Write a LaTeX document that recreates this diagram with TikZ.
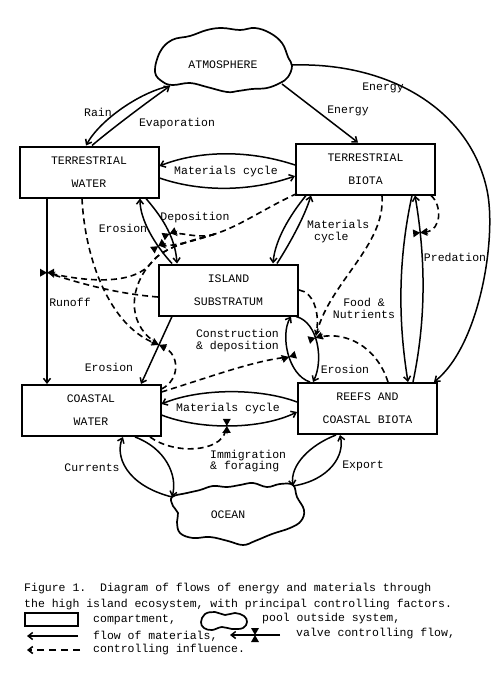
\documentclass[tikz,border=0pt]{standalone}
\usepackage{fontspec}
\setmainfont{Liberation Mono}
\usetikzlibrary{arrows.meta,decorations.markings}
\begin{document}
\begin{tikzpicture}[x=1pt,y=-1pt,
  every node/.style={font=\fontsize{11.5}{11.5}\selectfont, inner sep=0pt},
  box/.style={draw, line width=2pt, align=center, font=\fontsize{11.5}{23}\selectfont,
    minimum width=139pt, minimum height=51pt},
  flow/.style={line width=1.5pt, -{Straight Barb[length=4.5pt,width=7pt]}},
  ctrl/.style={line width=1.6pt, dash pattern=on 6pt off 4pt, shorten >=2pt,
    -{Stealth[length=6pt,width=5.5pt]}},
  trunk/.style={line width=1.6pt, dash pattern=on 6pt off 4pt},
  legdash/.style={line width=1.6pt, dash pattern=on 7pt off 5pt,
    -{Straight Barb[length=4.5pt,width=7pt]}},
  cloudline/.style={line width=1.7pt},
  valveat/.style 2 args={postaction={decorate,decoration={markings,
    mark=at position #1 with {\coordinate (#2);
      \fill[solid,arrows=-] (0,0)--(-4,7)--(4,7)--cycle (0,0)--(-4,-7)--(4,-7)--cycle;}}}}
]
\useasboundingbox[fill=white] (0,0) rectangle (500,680);

% clouds
\draw[cloudline] plot[smooth cycle, tension=0.65] coordinates {(155,72) (160,52) (172,40) (190,36) (207,30) (222,28) (240,30) (255,28) (270,33) (282,43) (288,57) (292,66) (288,77) (280,83) (267,88) (252,89) (238,91) (227,92) (207,87) (190,83) (173,85) (163,82)};
\node (atm) at (223,65) {ATMOSPHERE};
\coordinate (atmA) at (170,86);
\coordinate (atmB) at (282,84);
\coordinate (atmC) at (292,65);

\draw[cloudline] plot[smooth cycle, tension=0.65] coordinates {(172,497) (187,493) (200,490) (213,486) (227,487) (240,485) (253,483) (267,487) (280,484) (293,485) (297,497) (304,510) (301,521) (290,528) (272,534) (255,541) (243,545) (228,541) (210,537) (193,538) (180,533) (177,522) (178,513) (173,506)};
\node (ocean) at (228,515) {OCEAN};
\coordinate (ocA) at (172,497);
\coordinate (ocB) at (293,486);

% compartments
\node[box] (tw) at (89,172) {TERRESTRIAL\\WATER};
\node[box] (tb) at (365.5,169) {TERRESTRIAL\\BIOTA};
\node[box] (is) at (228.5,290) {ISLAND\\SUBSTRATUM};
\node[box] (cw) at (91,410.5) {COASTAL\\WATER};
\node[box] (rc) at (367.5,408.5) {REEFS AND\\COASTAL BIOTA};

% atmosphere flows
\draw[flow] (atmA) .. controls (140,92) and (100,120) .. ([xshift=-3pt]tw.north);
\draw[flow] ([xshift=3pt]tw.north) .. controls (110,130) and (150,100) .. (atmA);
\draw[flow] (atmB) -- ([xshift=-7.5pt]tb.north);
\draw[flow] (atmC) .. controls (390,62) and (470,110) .. (487,190) .. controls (497,237) and (480,345) .. ([xshift=66.5pt]rc.north);

% TW <-> TB
\draw[flow] ([yshift=4pt]tb.west) .. controls (250,150) and (200,150) .. ([yshift=6pt]tw.east);
\draw[flow] ([yshift=-6pt]tw.east) .. controls (200,192) and (250,192) .. ([yshift=-7pt]tb.west);

% TW <-> IS
\draw[flow, valveat={0.58}{v1}] ([xshift=57pt]tw.south) .. controls (160,215) and (175,235) .. ([xshift=-51.5pt]is.north);
\draw[flow, valveat={0.3}{v2}] ([xshift=-56.5pt]is.north) .. controls (155,245) and (140,220) .. ([xshift=51pt]tw.south);

% runoff
\draw[flow, valveat={0.4}{vr}] ([xshift=-42pt]tw.south) -- ([xshift=-44pt]cw.north);

% TB <-> IS
\draw[flow] ([xshift=-59.5pt]tb.south) .. controls (290,215) and (275,240) .. ([xshift=44.5pt]is.north);
\draw[flow] ([xshift=48.5pt]is.north) .. controls (292,240) and (305,215) .. ([xshift=-54.5pt]tb.south);

% IS -> CW erosion
\draw[flow, valveat={0.42}{ve1}] ([xshift=-56.5pt]is.south) -- ([xshift=50pt]cw.north);

% IS <-> reefs
\draw[flow, valveat={0.45}{vc}] ([xshift=-57.5pt]rc.north) .. controls (288,375) and (280,335) .. ([xshift=62.5pt]is.south);
\draw[flow, valveat={0.4}{ve2}] ([xshift=67.5pt]is.south) .. controls (318,322) and (324,360) .. ([xshift=-54.5pt]rc.north);

% TB <-> reefs
\draw[flow] ([xshift=46.5pt]tb.south) .. controls (398,260) and (398,320) .. ([xshift=40.5pt]rc.north);
\draw[flow, valveat={0.8}{vp}] ([xshift=45.5pt]rc.north) .. controls (426,320) and (426,260) .. ([xshift=49.5pt]tb.south);

% CW <-> reefs
\draw[flow] ([yshift=6.5pt]rc.west) .. controls (260,388) and (200,388) .. ([yshift=6.5pt]cw.east);
\draw[flow, valveat={0.48}{vm}] ([yshift=-4.5pt]cw.east) .. controls (200,430) and (260,430) .. ([yshift=-3.5pt]rc.west);

% currents
\draw[flow] (ocA) .. controls (125,485) and (115,455) .. ([xshift=32pt]cw.south);
\draw[flow] ([xshift=44pt]cw.south) .. controls (165,448) and (178,475) .. (ocA);

% export
\draw[flow] (ocB) .. controls (330,480) and (345,455) .. ([xshift=-27.5pt]rc.south);
\draw[flow] ([xshift=-31.5pt]rc.south) .. controls (310,445) and (290,465) .. (ocB);

% controlling influences
\coordinate (jn) at (215,234);
\draw[trunk] ([shift={(2pt,2pt)}]tb.south west) .. controls (265,208) and (240,226) .. (jn);
\draw[ctrl] (jn) .. controls (200,239) and (185,233) .. (v1);
\draw[ctrl] (jn) .. controls (200,239) and (180,245) .. (v2);
\draw[ctrl] (jn) .. controls (200,239) and (165,245) .. (152,262) .. controls (135,285) and (90,282) .. (vr);
\draw[ctrl] (jn) .. controls (200,239) and (165,245) .. (152,262) .. controls (130,285) and (126,322) .. (ve1);
\draw[ctrl] ([yshift=-7pt]is.west) .. controls (120,294) and (85,285) .. (vr);
\draw[ctrl] ([xshift=-7pt]tw.south) .. controls (85,260) and (110,325) .. (ve1);
\draw[ctrl] ([yshift=-5pt]cw.north east) .. controls (180,380) and (180,355) .. (ve1);
\draw[ctrl] ([yshift=-8pt]cw.north east) .. controls (210,377) and (250,362) .. (vc);
\draw[ctrl] (is.east) .. controls (313,292) and (320,312) .. (ve2);
\draw[ctrl] ([xshift=16.5pt]tb.south) .. controls (386,245) and (330,282) .. (ve2);
\draw[ctrl] ([xshift=20.5pt]rc.north) .. controls (376,345) and (345,332) .. (ve2);
\draw[ctrl] ([xshift=65.5pt]tb.south) .. controls (442,205) and (442,230) .. (vp);
\draw[ctrl] ([xshift=59pt]cw.south) .. controls (175,455) and (220,452) .. (vm);

% labels
\node (lRain) at (98,112) {Rain};
\node (lEvap) at (177,124) {Evaporation};
\node (lEn1) at (348,111) {Energy};
\node (lEn2) at (383,88) {Energy};
\node (lMc1) at (226,172) {Materials cycle};
\node (lEro1) at (123,228) {Erosion};
\node (lDep) at (195,218) {Deposition};
\node[align=left, anchor=west] (lMc2) at (307,231.5) {Materials\\\hphantom{x}cycle};
\node (lRun) at (70,302) {Runoff};
\node[align=center] (lFood) at (364,308.5) {Food \&\\Nutrients};
\node[align=center] (lCon) at (237.5,340.5) {Construction\\\& deposition};
\node (lEro2) at (109,367) {Erosion};
\node (lEro3) at (345,369) {Erosion};
\node (lPred) at (455,257) {Predation};
\node (lMc3) at (228,409) {Materials cycle};
\node[align=left, anchor=west] (lImm) at (210,461) {Immigration\\\& foraging};
\node (lCur) at (92,468) {Currents};
\node (lExp) at (363,466) {Export};

% caption and legend
\node[anchor=west] (cap1) at (24,589) {Figure 1.\ \ Diagram of flows of energy and materials through};
\node[anchor=west] (cap2) at (24,605) {the high island ecosystem, with principal controlling factors.};
\node[draw, line width=1.6pt, minimum width=53pt, minimum height=13pt] (legbox) at (51.5,619.5) {};
\node[anchor=west] (lg1) at (93,620) {compartment,};
\draw[cloudline] plot[smooth cycle, tension=0.65] coordinates {(201,622) (205,614) (215,612) (225,615) (235,613) (244,616) (247,622) (243,628) (232,629) (222,627) (212,630) (204,628)};
\node[anchor=west] (lg2) at (262,619) {pool outside system,};
\coordinate (lf1) at (78,636);
\coordinate (lf2) at (27,636);
\draw[flow] (lf1) -- (lf2);
\node[anchor=west] (lg3) at (93,636) {flow of materials,};
\coordinate (lv1) at (280,635);
\coordinate (lv2) at (230,635);
\draw[flow, valveat={0.5}{lv}] (lv1) -- (lv2);
\node[anchor=west] (lg4) at (296,634) {valve controlling flow,};
\coordinate (lc1) at (80,650);
\coordinate (lc2) at (27,650);
\draw[legdash] (lc1) -- (lc2);
\node[anchor=west] (lg5) at (93,650) {controlling influence.};
\end{tikzpicture}
\end{document}
